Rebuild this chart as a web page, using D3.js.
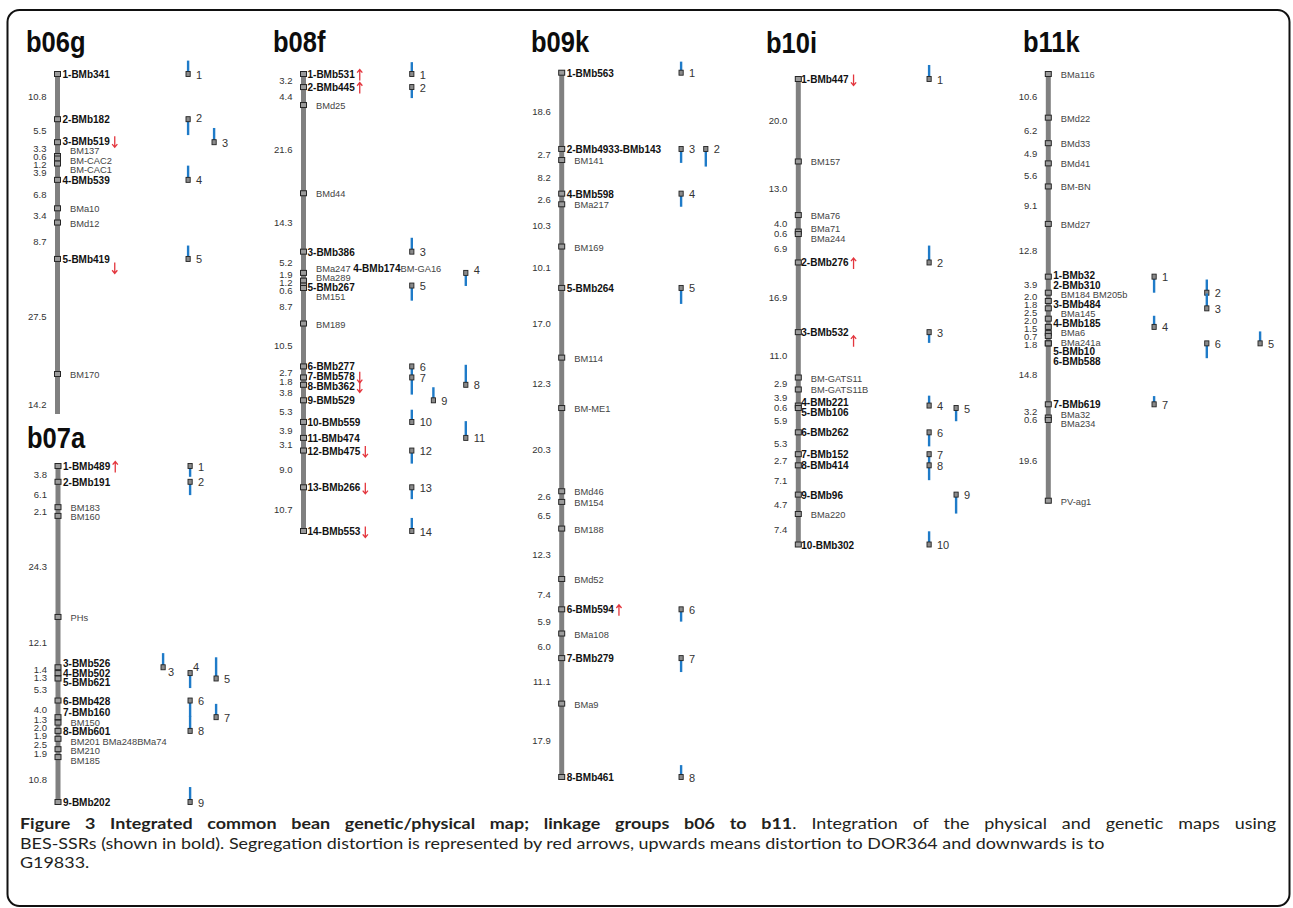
<!DOCTYPE html>
<html><head><meta charset="utf-8">
<script src="https://cdn.jsdelivr.net/npm/d3@7"></script>
<style>body{margin:0;background:#fff}svg{display:block}</style>
</head><body>
<svg id="c" width="1293" height="908"></svg>
<script>
// ---------------- DATA ----------------
// marker names top to bottom, distances (cM) between consecutive markers
const b06gMarkers = ["1-BMb341","2-BMb182","3-BMb519","BM137","BM-CAC2","BM-CAC1","4-BMb539","BMa10","BMd12","5-BMb419","BM170"];
const b06gIntervals = [10.8,5.5,3.3,0.6,1.2,3.9,6.8,3.4,8.7,27.5];
const b06gTail = 14.2;
const b06gArrows = [["3-BMb519","down"],["5-BMb419","down"]];
// physical map: [marker, number, column, bar direction, bar span (cM)]
const b06gPhysical = [["1-BMb341",1,0,"up",3.2],["2-BMb182",2,0,"down",3.8],["3-BMb519",3,1,"up",3.4],["4-BMb539",4,0,"up",3.4],["5-BMb419",5,0,"up",3.2]];

const b07aMarkers = ["1-BMb489","2-BMb191","BM183","BM160","PHs","3-BMb526","4-BMb502","5-BMb621","6-BMb428","7-BMb160","BM150","8-BMb601","BM201 BMa248BMa74","BM210","BM185","9-BMb202"];
const b07aIntervals = [3.8,6.1,2.1,24.3,12.1,1.4,1.3,5.3,4.0,1.3,2.0,1.9,2.5,1.9,10.8];
const b07aArrows = [["1-BMb489","up"]];
const b07aPhysical = [["1-BMb489",1,1,"down",2.6],["2-BMb191",2,1,"down",3.2],["3-BMb526",3,0,"up",3.4],["4-BMb502",4,1,"down",3.6],["5-BMb621",5,2,"up",5.1],["6-BMb428",6,1,"down",3.9],["7-BMb160",7,2,"up",3.2],["8-BMb601",8,1,"up",3.6],["9-BMb202",9,1,"up",3.6]];

const b08fMarkers = ["1-BMb531","2-BMb445","BMd25","BMd44","3-BMb386","BMa247 4-BMb174BM-GA16","BMa289","5-BMb267","BM151","BM189","6-BMb277","7-BMb578","8-BMb362","9-BMb529","10-BMb559","11-BMb474","12-BMb475","13-BMb266","14-BMb553"];
const b08fIntervals = [3.2,4.4,21.6,14.3,5.2,1.9,1.2,0.6,8.7,10.5,2.7,1.8,3.8,5.3,3.9,3.1,9.0,10.7];
const b08fArrows = [["1-BMb531","up"],["2-BMb445","up"],["7-BMb578","down"],["8-BMb362","down"],["12-BMb475","down"],["13-BMb266","down"],["14-BMb553","down"]];
const b08fPhysical = [["1-BMb531",1,0,"up",2.9],["2-BMb445",2,0,"down",2.7],["3-BMb386",3,0,"up",3.4],["BMa247 4-BMb174BM-GA16",4,2,"down",3.2],["5-BMb267",5,0,"down",3.7],["6-BMb277",6,0,"down",2.4],["7-BMb578",7,0,"down",4.2],["8-BMb362",8,2,"up",4.9],["9-BMb529",9,1,"up",3.2],["10-BMb559",10,0,"up",3.0],["11-BMb474",11,2,"up",4.1],["12-BMb475",12,0,"down",3.2],["13-BMb266",13,0,"down",2.9],["14-BMb553",14,0,"up",3.2]];

const b09kMarkers = ["1-BMb563","2-BMb4933-BMb143","BM141","4-BMb598","BMa217","BM169","5-BMb264","BM114","BM-ME1","BMd46","BM154","BM188","BMd52","6-BMb594","BMa108","7-BMb279","BMa9","8-BMb461"];
const b09kIntervals = [18.6,2.7,8.2,2.6,10.3,10.1,17.0,12.3,20.3,2.6,6.5,12.3,7.4,5.9,6.0,11.1,17.9];
const b09kArrows = [["6-BMb594","up"]];
const b09kPhysical = [["1-BMb563",1,0,"up",2.7],["2-BMb4933-BMb143",3,0,"down",3.4],["2-BMb4933-BMb143",2,1,"down",4.3],["4-BMb598",4,0,"down",3.2],["5-BMb264",5,0,"down",3.9],["6-BMb594",6,0,"down",3.0],["7-BMb279",7,0,"down",3.4],["8-BMb461",8,0,"up",2.9]];

const b10iMarkers = ["1-BMb447","BM157","BMa76","BMa71","BMa244","2-BMb276","3-BMb532","BM-GATS11","BM-GATS11B","4-BMb221","5-BMb106","6-BMb262","7-BMb152","8-BMb414","9-BMb96","BMa220","10-BMb302"];
const b10iIntervals = [20.0,13.0,4.0,0.6,6.9,16.9,11.0,2.9,3.9,0.6,5.9,5.3,2.7,7.1,4.7,7.4];
const b10iArrows = [["1-BMb447","down"],["2-BMb276","up"],["3-BMb532","up"]];
const b10iPhysical = [["1-BMb447",1,0,"up",3.4],["2-BMb276",2,0,"up",4.1],["3-BMb532",3,0,"down",2.6],["4-BMb221",4,0,"up",2.4],["5-BMb106",5,1,"down",3.2],["6-BMb262",6,0,"down",3.4],["7-BMb152",7,0,"down",2.7],["8-BMb414",8,0,"down",3.6],["9-BMb96",9,1,"down",4.6],["10-BMb302",10,0,"up",3.2]];

const b11kMarkers = ["BMa116","BMd22","BMd33","BMd41","BM-BN","BMd27","1-BMb32","2-BMb310","BM184 BM205b","3-BMb484","BMa145","4-BMb185","BMa6","BMa241a","5-BMb10","6-BMb588","7-BMb619","BMa32","BMa234","PV-ag1"];
const b11kIntervals = [10.6,6.2,4.9,5.6,9.1,12.8,3.9,2.0,1.8,2.5,2.0,1.5,0.7,1.8,0,14.8,3.2,0.6,19.6];
const b11kArrows = [];
const b11kPhysical = [["1-BMb32",1,0,"down",3.9],["2-BMb310",2,1,"up",3.2],["3-BMb484",3,1,"up",3.6],["4-BMb185",4,0,"up",2.7],["5-BMb10",5,2,"up",2.9],["6-BMb588",6,1,"down",3.6],["7-BMb619",7,0,"up",2.0]];

const captionBold = "Figure 3 Integrated common bean genetic/physical map; linkage groups b06 to b11";
const captionLine1 = ". Integration of the physical and genetic maps using";
const captionLine2 = "BES-SSRs (shown in bold). Segregation distortion is represented by red arrows, upwards means distortion to DOR364 and downwards is to";
const captionLine3 = "G19833.";

// ---------------- LAYOUT ----------------
const groups = [
  {id:"b06g", markers:b06gMarkers, intervals:b06gIntervals, tail:b06gTail, arrows:b06gArrows, phys:b06gPhysical},
  {id:"b07a", markers:b07aMarkers, intervals:b07aIntervals, tail:0, arrows:b07aArrows, phys:b07aPhysical},
  {id:"b08f", markers:b08fMarkers, intervals:b08fIntervals, tail:0, arrows:b08fArrows, phys:b08fPhysical},
  {id:"b09k", markers:b09kMarkers, intervals:b09kIntervals, tail:0, arrows:b09kArrows, phys:b09kPhysical},
  {id:"b10i", markers:b10iMarkers, intervals:b10iIntervals, tail:0, arrows:b10iArrows, phys:b10iPhysical},
  {id:"b11k", markers:b11kMarkers, intervals:b11kIntervals, tail:0, arrows:b11kArrows, phys:b11kPhysical}
];
const layout = {
  b06g:{barX:57.5, y0:74, y1:374, cols:[188,214], tx:26, ty:52, clip:414, boldDx:5},
  b07a:{barX:58, y0:466, y1:802, cols:[163,190,216], tx:27, ty:448, boldDx:5},
  b08f:{barX:303.5, y0:74, y1:531, cols:[411.7,433.3,465.7], tx:273, ty:52, boldDx:4},
  b09k:{barX:561.7, y0:72.7, y1:777, cols:[681,705.7], tx:531, ty:52, boldDx:5},
  b10i:{barX:798.3, y0:79, y1:544.5, cols:[929,956], tx:766, ty:53, boldDx:3},
  b11k:{barX:1048.3, y0:74, y1:500.7, cols:[1154,1206.7,1260], tx:1023, ty:52, boldDx:5}
};
const arrowDy = {"b06g:5-BMb419":8, "b10i:3-BMb532":8};
const numTweak = {"b07a:3":[-3,4], "b07a:4":[-5,-7], "b08f:4":[0,-3], "b06g:2":[0,-2]};

const FONT = "'Liberation Sans', Arial, Helvetica, sans-serif";
const BLUE = "#1f7bc8", RED = "#e3363e", BAR = "#808080";
const svg = d3.select("#c");
const defs = svg.append("defs");

svg.append("rect").attr("x",7.5).attr("y",10).attr("width",1282).attr("height",896)
  .attr("rx",12).attr("fill","none").attr("stroke","#111").attr("stroke-width",2);

function spread(targets, gap){
  const order = targets.map((t,i)=>i).sort((a,b)=>targets[a]-targets[b]);
  let cl = order.map(i=>({ids:[i], sum:targets[i]}));
  const pos = c => c.sum/c.ids.length - gap*(c.ids.length-1)/2;
  let merged = true;
  while(merged){
    merged = false;
    for(let k=0;k<cl.length-1;k++){
      const a=cl[k], b=cl[k+1];
      if(pos(b) - (pos(a)+gap*(a.ids.length-1)) < gap-1e-6){
        cl.splice(k,2,{ids:a.ids.concat(b.ids), sum:a.sum+b.sum});
        merged = true; break;
      }
    }
  }
  const out = new Array(targets.length);
  cl.forEach(c=>{const p=pos(c); c.ids.forEach((id,j)=>out[id]=p+j*gap);});
  return out;
}
const SSR = /(\d+-BMb\d+(?:-BMb\d+)?)/;
function segments(name){
  return name.split(SSR).filter(s=>s.length).map(s=>({t:s, bold:/^\d+-BMb/.test(s)}));
}

groups.forEach(g=>{
  const L = layout[g.id];
  const n = g.markers.length;
  const cum = [0];
  g.intervals.forEach((d,i)=>cum.push(cum[i]+d));
  const y = d3.scaleLinear().domain([0, cum[n-1]]).range([L.y0, L.y1]);
  let G = svg.append("g");
  if(L.clip){
    defs.append("clipPath").attr("id","clip-"+g.id).append("rect")
      .attr("x",0).attr("y",0).attr("width",260).attr("height",L.clip);
    G.attr("clip-path","url(#clip-"+g.id+")");
  }
  // title
  svg.append("text").text(g.id)
    .attr("transform",`translate(${L.tx},${L.ty}) scale(0.85,1)`)
    .attr("font-family",FONT).attr("font-weight","bold").attr("font-size",30).attr("fill","#0d0d0d");
  // chromosome bar
  const end = cum[n-1] + g.tail;
  G.append("rect").attr("x",L.barX-2.5).attr("y",y(0)-2.5).attr("width",5)
    .attr("height",y(end)-y(0)+5).attr("fill",BAR);
  // interval labels
  const iv = [];
  for(let i=1;i<n;i++) if(g.intervals[i-1]>0) iv.push({v:g.intervals[i-1], t:(y(cum[i-1])+y(cum[i]))/2});
  if(g.tail) iv.push({v:g.tail, t:(y(cum[n-1])+y(end))/2});
  const ivY = spread(iv.map(d=>d.t), 8);
  G.selectAll("text.iv").data(iv).join("text").attr("class","iv")
    .attr("x",L.barX-11).attr("y",(d,i)=>ivY[i]+3.8).attr("text-anchor","end")
    .attr("font-family",FONT).attr("font-size",9.5).attr("fill","#333")
    .text(d=>d.v.toFixed(1));
  // marker labels
  const labY = spread(g.markers.map((m,i)=>y(cum[i])), 9.5);
  const labels = G.selectAll("text.mk").data(g.markers).join("text").attr("class","mk")
    .attr("x",(d)=>L.barX + (segments(d)[0].bold ? L.boldDx : 12.5))
    .attr("y",(d,i)=>labY[i]+4)
    .attr("font-family",FONT);
  labels.each(function(d){
    d3.select(this).selectAll("tspan").data(segments(d)).join("tspan")
      .attr("font-weight",s=>s.bold?"bold":"normal")
      .attr("font-size",s=>s.bold?10:9.3)
      .attr("fill",s=>s.bold?"#111":"#444")
      .text(s=>s.t);
  });
  // marker squares
  G.selectAll("rect.sq").data(g.markers).join("rect").attr("class","sq")
    .attr("x",L.barX-3).attr("y",(d,i)=>y(cum[i])-2.5).attr("width",6).attr("height",5)
    .attr("fill","#9b9b9b").attr("stroke","#262626").attr("stroke-width",1);
  // distortion arrows
  labels.each(function(d,i){
    const a = g.arrows.find(r=>r[0]===d);
    if(!a) return;
    const ax = +this.getAttribute("x") + this.getComputedTextLength() + 5;
    const ay = labY[i] + 1 + (arrowDy[g.id+":"+d]||0);
    const up = a[1]==="up";
    const tip = up ? ay-5.5 : ay+5.5, tail = up ? ay+5.5 : ay-5.5, h = up ? 3.2 : -3.2;
    G.append("path").attr("d",`M${ax},${tail}L${ax},${tip}M${ax-2.6},${tip+h}L${ax},${tip}L${ax+2.6},${tip+h}`)
      .attr("fill","none").attr("stroke",RED).attr("stroke-width",1.3);
  });
  // physical map
  g.phys.forEach(p=>{
    const [at, num, col, dir, span] = p;
    const idx = g.markers.indexOf(at);
    const c = cum[idx];
    const sy = y(c);
    const ey = dir==="up" ? sy-(y(c+span)-y(c)) : sy+(y(c+span)-y(c));
    const cx = L.cols[col];
    G.append("rect").attr("x",cx-1.1).attr("width",2.4)
      .attr("y",Math.min(sy,ey)).attr("height",Math.abs(ey-sy)).attr("fill",BLUE);
    G.append("rect").attr("x",cx-2).attr("y",sy-2.5).attr("width",4.2).attr("height",5)
      .attr("fill","#8a8a8a").attr("stroke","#222").attr("stroke-width",0.9);
    const tw = numTweak[g.id+":"+num] || [0,0];
    G.append("text").attr("x",cx+8+tw[0]).attr("y",sy+4.5+tw[1])
      .attr("font-family",FONT).attr("font-size",11).attr("fill","#333").text(num);
  });
});

// ---------------- CAPTION ----------------
const CF = "Lato, 'Noto Sans', sans-serif";
const CS = 15;
const cap = svg.append("g");
const l2 = cap.append("text").attr("x",0).attr("y",849).attr("font-family",CF).attr("font-size",CS)
  .attr("fill","#231f20").text(captionLine2);
const w2 = l2.node().getComputedTextLength();
const sx = 1085 / w2;
cap.attr("transform",`translate(20,0) scale(${sx},1)`);
const l1 = cap.append("text").attr("x",0).attr("y",829).attr("font-family",CF).attr("font-size",CS)
  .attr("fill","#231f20");
l1.append("tspan").attr("font-weight","bold").text(captionBold);
l1.append("tspan").text(captionLine1);
const w1 = l1.node().getComputedTextLength();
const spaces = (captionBold+captionLine1).split(" ").length-1;
l1.attr("word-spacing",(1256/sx - w1)/spaces);
cap.append("text").attr("x",0).attr("y",868.5).attr("font-family",CF).attr("font-size",CS)
  .attr("fill","#231f20").text(captionLine3);
</script>
</body></html>
